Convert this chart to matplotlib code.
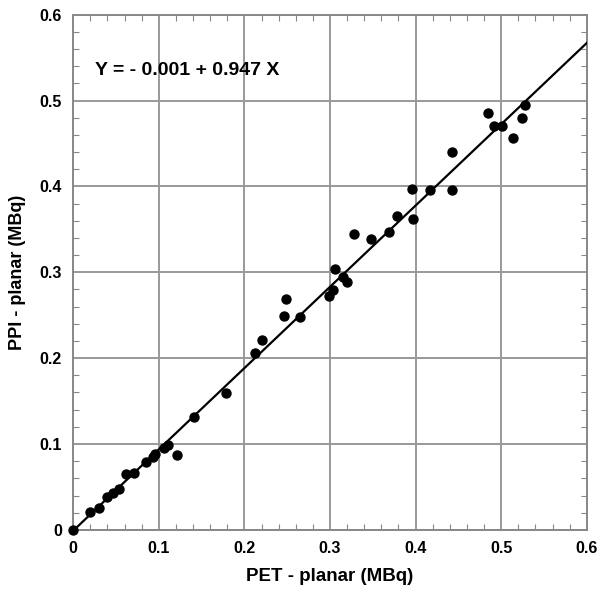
import numpy as np
import matplotlib
matplotlib.use("Agg")
import matplotlib.pyplot as plt
from matplotlib.ticker import MultipleLocator

plt.rcParams['font.family'] = ['Liberation Sans', 'DejaVu Sans']

# PET - planar vs PPI - planar (MBq)
pet = [0.0, 0.020, 0.030, 0.040, 0.046, 0.054, 0.062, 0.071, 0.085, 0.093, 0.095,
       0.106, 0.111, 0.121, 0.141, 0.179, 0.212, 0.221, 0.246, 0.249, 0.265,
       0.299, 0.303, 0.306, 0.315, 0.320, 0.328, 0.348, 0.369, 0.378, 0.396,
       0.397, 0.417, 0.442, 0.442, 0.485, 0.492, 0.501, 0.514, 0.524, 0.528]
ppi = [0.0, 0.021, 0.026, 0.038, 0.043, 0.048, 0.065, 0.066, 0.079, 0.085, 0.088,
       0.095, 0.099, 0.087, 0.131, 0.159, 0.206, 0.221, 0.249, 0.269, 0.248,
       0.272, 0.279, 0.304, 0.294, 0.289, 0.345, 0.339, 0.347, 0.366, 0.397,
       0.362, 0.396, 0.396, 0.440, 0.486, 0.470, 0.470, 0.456, 0.480, 0.495]

intercept = -0.001
slope = 0.947
ticks = [0, 0.1, 0.2, 0.3, 0.4, 0.5, 0.6]
tick_labels = ['0', '0.1', '0.2', '0.3', '0.4', '0.5', '0.6']

fig = plt.figure(figsize=(6, 5.92), dpi=100)
ax = fig.add_axes([0.122, 0.105, 0.856, 0.870])

xs = np.array([0, 0.6])
ax.plot(xs, intercept + slope * xs, color='black', lw=1.6, zorder=3)
ax.scatter(pet, ppi, s=42, color='black', zorder=4, clip_on=False)

ax.set_xlim(0, 0.6)
ax.set_ylim(0, 0.6)
ax.set_xticks(ticks)
ax.set_yticks(ticks)
ax.set_xticklabels(tick_labels, fontsize=11.5, fontweight='bold')
ax.set_yticklabels(tick_labels, fontsize=11.5, fontweight='bold')
ax.xaxis.set_minor_locator(MultipleLocator(0.02))
ax.yaxis.set_minor_locator(MultipleLocator(0.02))
ax.tick_params(which='both', direction='in', top=True, right=True, color='#888888')
ax.tick_params(which='major', length=0, pad=8)
ax.tick_params(which='minor', length=4, width=0.8)
ax.grid(True, which='major', color='#999999', lw=1.4)
ax.set_axisbelow(True)
for s in ax.spines.values():
    s.set_color('#888888')
    s.set_linewidth(1.4)

ax.set_xlabel('PET - planar (MBq)', fontsize=13.5, fontweight='bold', labelpad=9)
ax.set_ylabel('PPI - planar (MBq)', fontsize=13, fontweight='bold', labelpad=10)
ax.text(0.026, 0.535, 'Y = - 0.001 + 0.947 X', fontsize=14, fontweight='bold',
        va='center', ha='left')

fig.savefig('out.png', dpi=100)
